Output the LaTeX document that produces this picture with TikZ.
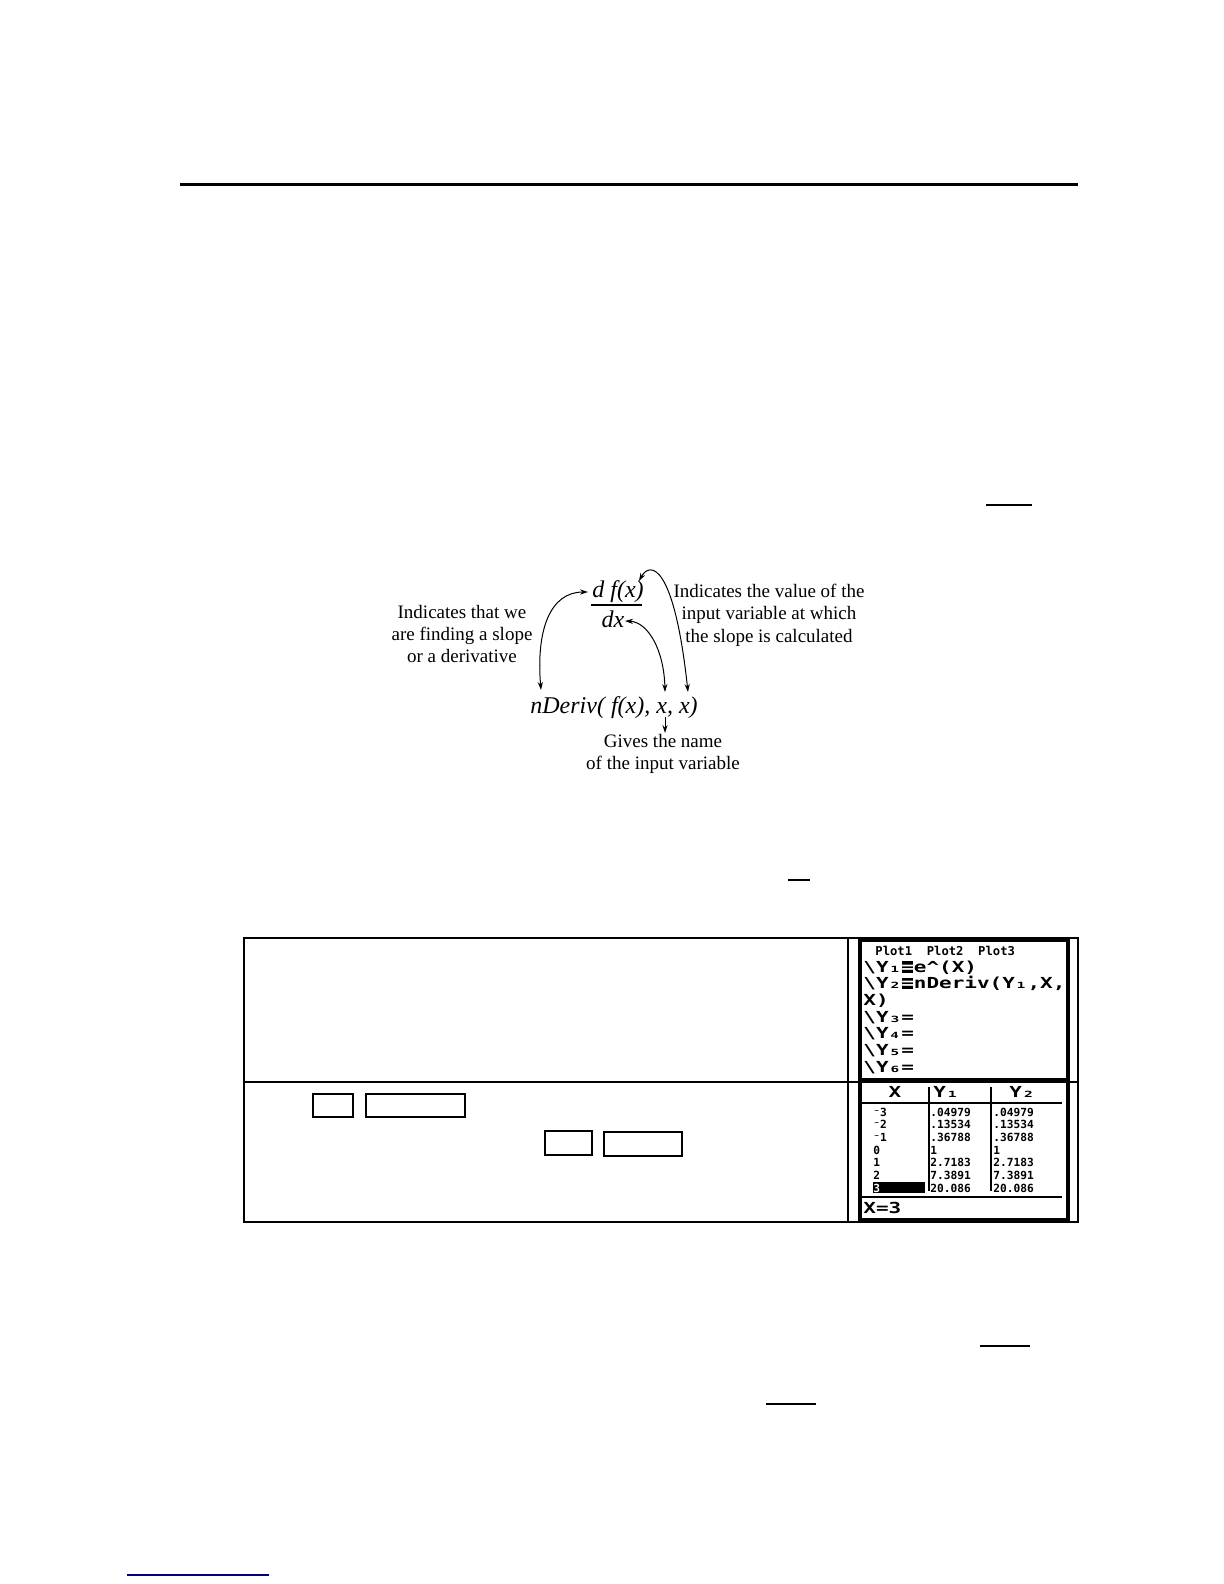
\documentclass[tikz,border=0pt]{standalone}
\usepackage{fontspec}
\setmainfont{Liberation Serif}
\newfontfamily\tiwide{DejaVu Sans Mono}[FakeStretch=1.38]
\newfontfamily\tinarrow{DejaVu Sans Mono}
\usetikzlibrary{arrows.meta}
\definecolor{linkblue}{RGB}{0,0,128}
\newcommand{\tihl}[1]{\setbox0\hbox{#1}\makebox[\wd0]{\rule[-0.3pt]{0.82\wd0}{5.6pt}}\llap{\makebox[\wd0]{\textcolor{white}{#1}}}}

\tikzset{
  lbl/.style={align=center, font=\fontsize{9.5}{11.2}\selectfont, inner sep=0pt},
  mth/.style={font=\fontsize{12}{14}\selectfont\itshape, inner sep=0pt, anchor=base},
  arr/.style={line width=0.5pt},
  bar/.style={line width=0.55pt},
  keybox/.style={draw, line width=0.7pt},
  tibig/.style={font=\fontsize{7.6}{8}\tiwide\bfseries, inner sep=0pt, anchor=base west},
  tiplot/.style={font=\fontsize{6.1}{7}\tinarrow\bfseries, inner sep=0pt, anchor=base west},
  tinum/.style={font=\fontsize{5.6}{6}\tinarrow\bfseries, inner sep=0pt, anchor=base west}
}

\begin{document}
\begin{tikzpicture}[x=0.5pt,y=-0.5pt,>={Stealth[length=4pt,width=2.6pt]}]
        \useasboundingbox (0,0) rectangle (1224,1584);
        \fill[white] (0,0) rectangle (1224,1584);

        % page rules
        \draw[line width=1.5pt] (180,184) -- (1078,184);
        \draw[bar] (986,505) -- (1032,505);
        \draw[bar] (788,880) -- (810,880);
        \draw[bar] (980,1346) -- (1030,1346);
        \draw[bar] (766,1404) -- (816,1404);
        \draw[bar, linkblue] (127,1575) -- (269,1575);

        % notation
        \node[mth] (num) at (618,597) {d f(x)};
        \draw[bar] (591,605) -- (642,605);
        \node[mth] (den) at (613,627) {dx};
        \node[mth, anchor=base west] (nderiv) at (530,713) {nDeriv( f(x), x, x)};

        \node[lbl] (slope) at (462,634) {Indicates that we\\are finding a slope\\or a derivative};
        \node[lbl] (value) at (769,615) {Indicates the value of the\\input variable at which\\the slope is calculated};
        \node[lbl] (gives) at (663,754) {Gives the name\\of the input variable};

        \coordinate (d-left) at (588,592);
        \coordinate (n-top) at (541,690);
        \coordinate (dx-right) at (625,621);
        \coordinate (x1-top) at (665,692);
        \coordinate (f-top) at (639,581);
        \coordinate (x2-top) at (688,692);
        \coordinate (x1-bot) at (665,717);
        \coordinate (gives-top) at (665,733);

        \draw[arr,<->] (d-left) .. controls (550,592) and (536,630) .. (n-top);
        \draw[arr,<->] (dx-right) .. controls (648,622) and (664,650) .. (x1-top);
        \draw[arr,<->] (f-top) .. controls (650,561) and (674,563) .. (x2-top);
        \draw[arr,->] (x1-bot) -- (gives-top);

        % table
        \draw[line width=1pt] (244,938) rectangle (1078,1222);
        \draw[line width=0.6pt] (848,938) -- (848,1222);
        \draw[line width=0.6pt] (244,1082) -- (1078,1082);

        \draw[keybox] (313,1094) rectangle (353,1117);
        \draw[keybox] (366,1094) rectangle (465,1117);
        \draw[keybox] (545,1131) rectangle (592,1155);
        \draw[keybox] (604,1132) rectangle (682,1156);

        % screens
        \filldraw[fill=white, line width=1.75pt] (860,940) rectangle (1068,1220);
        \draw[line width=2.5pt] (860,1080) -- (1068,1080);

        \node[tiplot] at (875,955) {Plot1\ \ Plot2\ \ Plot3};
        \node[tibig] at (863,972) {\textbackslash Y₁\tihl{=}e\textasciicircum(X)};
        \node[tibig] at (863,988.7) {\textbackslash Y₂\tihl{=}nDeriv(Y₁,X,};
        \node[tibig] at (863,1005.4) {X)};
        \foreach \s [count=\i from 3] in {₃,₄,₅,₆}
            \node[tibig] at (863,{972+16.7*\i}) {\textbackslash Y\s=};

        \node[tibig, anchor=base] at (895,1097) {X};
        \node[tibig, anchor=base] at (946,1097) {Y₁};
        \node[tibig, anchor=base] at (1022,1097) {Y₂};
        \draw[line width=1pt] (862,1103) -- (1062,1103);
        \draw[line width=1pt] (929,1087) -- (929,1191);
        \draw[line width=1pt] (991,1087) -- (991,1191);

        \foreach \v [count=\i from 0] in {.04979,.13534,.36788,1,2.7183,7.3891,20.086} {
            \node[tinum] at (930,{1116+12.7*\i}) {\v};
            \node[tinum] at (993,{1116+12.7*\i}) {\v};
        }
        \foreach \v [count=\i from 0] in {⁻3,⁻2,⁻1,0,1,2}
            \node[tinum] at (873,{1116+12.7*\i}) {\v};
        \fill (873,1182) rectangle (925,1193);
        \node[tinum, text=white] at (873,1192.2) {3};

        \draw[line width=1.3pt] (862,1197) -- (1062,1197);
        \node[tibig] at (863,1213) {X=3};

\end{tikzpicture}
\end{document}
